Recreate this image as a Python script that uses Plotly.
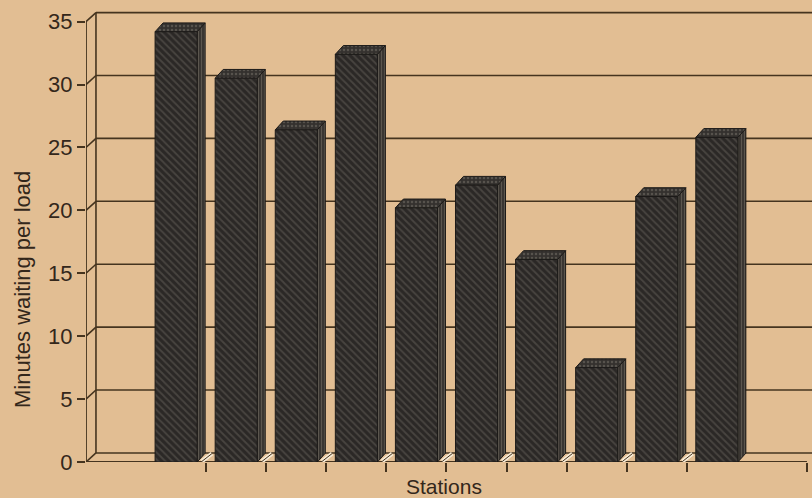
import plotly.graph_objects as go

# ---- data ----
stations = ["1", "2", "3", "4", "5", "6", "7", "8", "9", "10"]
minutes = [34.2, 30.5, 26.4, 32.4, 20.2, 22.0, 16.1, 7.5, 21.1, 25.8]
y_ticks = [0, 5, 10, 15, 20, 25, 30, 35]
x_tick_slots = [2, 3, 4, 5, 6, 7, 8, 9, 10, 12]

# ---- geometry / style ----
X_MAX = 12.084
Y_MAX = 36.72
WALL_DX, WALL_DY = 0.166, 0.72
BAR_DX, BAR_DY = 0.133, 0.70
BAR_OFF, BAR_W = 0.15, 0.70
FLOOR_END = 12
BG = "#E2BE93"
INK = "#33271b"
LINE = "#45341f"
BAR_EDGE = "#1c1a18"
FONT = "Liberation Sans, Arial, Helvetica, sans-serif"

fig = go.Figure()

def add_line(xs, ys, color=LINE, width=1.6):
    fig.add_trace(go.Scatter(x=xs, y=ys, mode="lines", hoverinfo="skip",
                             line=dict(color=color, width=width), showlegend=False))

# back gridlines (including floor back line and top)
gx, gy = [], []
for v in y_ticks:
    gx += [WALL_DX, X_MAX, None]
    gy += [v + WALL_DY, v + WALL_DY, None]
add_line(gx, gy)
# tick connectors front -> back
cx, cy = [], []
for v in y_ticks:
    cx += [0, WALL_DX, None]
    cy += [v, v + WALL_DY, None]
add_line(cx, cy)
# back wall vertical
add_line([WALL_DX, WALL_DX], [WALL_DY, y_ticks[-1] + WALL_DY])
# front y axis
add_line([0, 0], [0, y_ticks[-1]], width=1.8)
# front baseline
add_line([0, FLOOR_END], [0, 0], width=1.8)

# floor dividers between stations
dx_, dy_ = [], []
for k in x_tick_slots[:-1]:
    dx_ += [k - 0.07, k - 0.07 + WALL_DX, None]
    dy_ += [0.05, WALL_DY - 0.05, None]
add_line(dx_, dy_, color="#f6ead6", width=4)
add_line(dx_, dy_, color=LINE, width=1)

# bars
fx, fy, tx, ty, sx, sy = [], [], [], [], [], []
for i, v in enumerate(minutes):
    slot = i + 1
    l = slot + BAR_OFF
    r = l + BAR_W
    fx += [l, r, r, l, l, None]
    fy += [0, 0, v, v, 0, None]
    tx += [l, r, r + BAR_DX, l + BAR_DX, l, None]
    ty += [v, v, v + BAR_DY, v + BAR_DY, v, None]
    sx += [r, r + BAR_DX, r + BAR_DX, r, r, None]
    sy += [0, BAR_DY, v + BAR_DY, v, 0, None]

fig.add_trace(go.Scatter(
    x=sx, y=sy, mode="lines", fill="toself", fillcolor="#3a3632",
    fillpattern=dict(shape="|", fgcolor="#837c72", bgcolor="#3a3632", size=3, solidity=0.3),
    line=dict(color=BAR_EDGE, width=1), hoverinfo="skip", showlegend=False))
fig.add_trace(go.Scatter(
    x=tx, y=ty, mode="lines", fill="toself", fillcolor="#34312e",
    fillpattern=dict(shape=".", fgcolor="#7a746b", bgcolor="#34312e", size=4, solidity=0.3),
    line=dict(color=BAR_EDGE, width=1), hoverinfo="skip", showlegend=False))
fig.add_trace(go.Scatter(
    x=fx, y=fy, mode="lines", fill="toself", fillcolor="#2b2826",
    fillpattern=dict(shape="\\", fgcolor="#65605a", bgcolor="#2b2826", size=5, solidity=0.35),
    line=dict(color=BAR_EDGE, width=1), hoverinfo="skip", showlegend=False))

fig.update_layout(
    width=812, height=498,
    margin=dict(l=86, r=0, t=0, b=36),
    paper_bgcolor=BG, plot_bgcolor=BG,
    font=dict(family=FONT, color=INK, size=22),
    xaxis=dict(range=[0, X_MAX], tickvals=x_tick_slots, showticklabels=False,
               ticks="outside", ticklen=9, tickwidth=1.8, tickcolor=LINE,
               showgrid=False, zeroline=False, showline=False, fixedrange=True),
    yaxis=dict(range=[0, Y_MAX], tickvals=y_ticks, ticks="outside", ticklen=8,
               tickwidth=1.8, tickcolor=LINE, showgrid=False, zeroline=False,
               showline=False, tickfont=dict(size=22, color=INK), fixedrange=True),
    annotations=[
        dict(text="Minutes waiting per load", xref="paper", yref="paper",
             x=-0.0868, y=0.3745, textangle=-90, showarrow=False,
             xanchor="center", yanchor="middle", font=dict(size=22, color=INK)),
        dict(text="Stations", xref="paper", yref="paper", x=0.493, y=-0.052,
             showarrow=False, xanchor="center", yanchor="middle",
             font=dict(size=21, color=INK)),
    ],
)

fig.write_html("out.html")
